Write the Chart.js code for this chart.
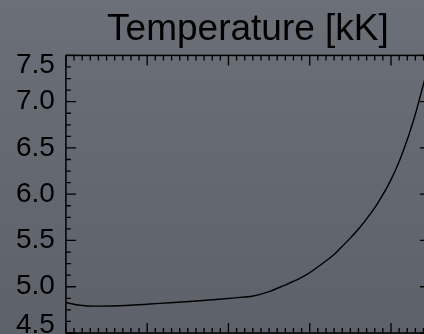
<!DOCTYPE html>
<html>
<head>
<meta charset="utf-8">
<title>Temperature [kK]</title>
<script src="https://cdn.jsdelivr.net/npm/chart.js@4.4.1/dist/chart.umd.min.js"></script>
<style>
    html, body {
        margin: 0;
        padding: 0;
        width: 424px;
        height: 334px;
        overflow: hidden;
        background: linear-gradient(to bottom, #6b6f77, #5d6169);
    }
    #wrap {
        width: 440px;
        height: 334px;
    }
</style>
</head>
<body>
<div id="wrap">
    <canvas id="tempChart" width="440" height="334"></canvas>
</div>
<script>
// Temperature profile along the grid
const gridX = [0, 0.172, 0.378, 0.787, 1.156, 1.525, 1.812, 2.079, 2.304, 2.509, 2.673, 2.878,
    2.961, 3.124, 3.288, 3.370, 3.493, 3.616, 3.739, 3.841, 3.985, 4.108, 4.231, 4.305,
    4.354, 4.403, 4.477];
const temperature = [4.83, 4.80, 4.79, 4.80, 4.82, 4.84, 4.86, 4.88, 4.90, 4.95, 5.01, 5.09,
    5.13, 5.23, 5.34, 5.41, 5.52, 5.64, 5.78, 5.91, 6.13, 6.37, 6.67, 6.88,
    7.04, 7.20, 7.44];

const yTicks = [4.5, 5.0, 5.5, 6.0, 6.5, 7.0, 7.5];
const yMinorStep = 0.125;
const xMajorStep = 1;
const xMinorStep = 0.1;
const xMax = 4.48;

const fontFamily = "'Liberation Sans', Arial, sans-serif";

// Box frame with inward ticks on all four sides
const frameTicks = {
    id: 'frameTicks',
    afterDatasetsDraw(chart) {
        const { ctx, chartArea: a, scales } = chart;
        const xs = scales.x, ys = scales.y;
        ctx.save();
        ctx.strokeStyle = '#000';
        ctx.lineWidth = 1.5;
        ctx.strokeRect(a.left, a.top, a.right - a.left, a.bottom - a.top);

        ctx.lineWidth = 1.3;
        ctx.beginPath();
        // y ticks (left + right)
        const nY = Math.round((ys.max - ys.min) / yMinorStep);
        for (let i = 0; i <= nY; i++) {
            const v = ys.min + i * yMinorStep;
            const py = ys.getPixelForValue(v);
            const len = (i % 4 === 0) ? 10 : 5;
            ctx.moveTo(a.left, py); ctx.lineTo(a.left + len, py);
            ctx.moveTo(a.right, py); ctx.lineTo(a.right - len, py);
        }
        // x ticks (bottom + top)
        const nX = Math.floor(xMax / xMinorStep + 1e-6);
        for (let i = 0; i <= nX; i++) {
            const px = xs.getPixelForValue(i * xMinorStep);
            const len = (i % Math.round(xMajorStep / xMinorStep) === 0) ? 10 : 5;
            ctx.moveTo(px, a.bottom); ctx.lineTo(px, a.bottom - len);
            ctx.moveTo(px, a.top); ctx.lineTo(px, a.top + len);
        }
        ctx.stroke();
        ctx.restore();
    }
};

const yMin = yTicks[0];
const yMax = yTicks[yTicks.length - 1];

new Chart(document.getElementById('tempChart'), {
    type: 'line',
    data: {
        datasets: [{
            data: gridX.map((x, i) => ({ x: x, y: temperature[i] })),
            borderColor: '#000',
            borderWidth: 1.4,
            pointRadius: 0,
            cubicInterpolationMode: 'monotone',
            fill: false
        }]
    },
    options: {
        responsive: false,
        animation: false,
        layout: { padding: { left: 5, right: 10, top: 0, bottom: 1 } },
        plugins: {
            legend: { display: false },
            tooltip: { enabled: false },
            title: {
                display: true,
                text: 'Temperature [kK]',
                color: '#000',
                fullSize: false,
                font: { family: fontFamily, size: 37, weight: 'normal' },
                padding: { top: 8, bottom: 3 }
            }
        },
        scales: {
            x: {
                type: 'linear',
                min: 0,
                max: xMax,
                display: false
            },
            y: {
                min: yMin,
                max: yMax,
                afterBuildTicks: (scale) => {
                    scale.ticks = yTicks.map(v => ({ value: v }));
                },
                afterFit: (scale) => {
                    scale.paddingTop = 0;
                    scale.paddingBottom = 0;
                },
                grid: { display: false, drawTicks: false },
                border: { display: false },
                ticks: {
                    color: '#000',
                    padding: 11,
                    // end labels are nudged inside the frame: a blank line pushes them
                    // half a line height away from the edge
                    font: (c) => {
                        const v = c.tick ? c.tick.value : null;
                        let lh = 1.2;
                        if (v === yMax) lh = 20 / 28;
                        if (v === yMin) lh = 16 / 28;
                        return { family: fontFamily, size: 28, lineHeight: lh };
                    },
                    callback: (v) => {
                        const s = Number(v).toFixed(1);
                        if (v === yMax) return ['', s];
                        if (v === yMin) return [s, ''];
                        return s;
                    }
                }
            }
        }
    },
    plugins: [frameTicks]
});
</script>
</body>
</html>
